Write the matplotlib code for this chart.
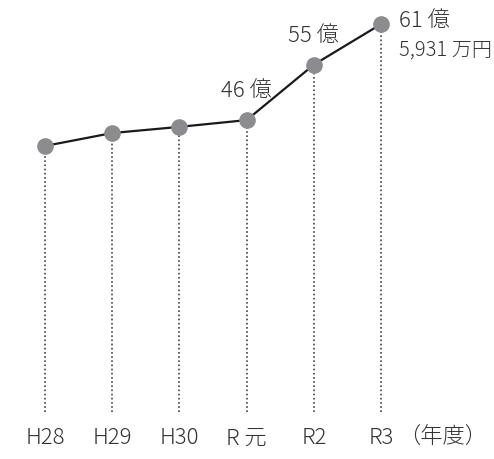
import matplotlib
matplotlib.use("Agg")
import matplotlib.pyplot as plt

plt.rcParams['font.family'] = ['Noto Sans CJK JP', 'DejaVu Sans']

years = ['H28', 'H29', 'H30', 'R 元', 'R2', 'R3']
values = [41.8, 43.9, 44.9, 46.0, 55.0, 61.59]
labels = {3: '46 億', 4: '55 億'}
last_label = ['61 億', '5,931 万円']

W, H = 494, 459
fig = plt.figure(figsize=(W / 100, H / 100), dpi=100)
ax = fig.add_axes([0, (H - 412) / H, 1, 412 / H])

x = list(range(len(years)))
ymin, ymax = -1.4, 65.5
ax.set_xlim(-0.67, 6.68)
ax.set_ylim(ymin, ymax)

# dotted drop lines
ax.vlines(x, ymin, values, colors='#444444', linestyles=(0, (1, 1.5)), linewidth=1.2, zorder=1)
ax.plot(x, values, color='#1a1a1a', linewidth=1.6, zorder=2)
ax.plot(x, values, 'o', color='#8c8c8f', markersize=12, markeredgewidth=0, zorder=3)

txt = dict(color='#333333', fontsize=16, fontweight='light')
for i, s in labels.items():
    ax.annotate(s, (x[i], values[i]), xytext=(0, 21), textcoords='offset points',
                ha='center', va='center', **txt)
ax.annotate(last_label[0], (x[5], values[5]), xytext=(13, 2), textcoords='offset points',
            ha='left', va='center', **txt)
ax.annotate(last_label[1], (x[5], values[5]), xytext=(13, -19), textcoords='offset points',
            ha='left', va='center', color='#333333', fontsize=14.5, fontweight='light')

ax.set_xticks(x)
ax.set_xticklabels(years, color='#333333', fontsize=16, fontweight='light')
ax.tick_params(axis='x', length=0, pad=11)
ax.set_yticks([])
ax.annotate('（年度）', (443 / W, 0), xycoords='axes fraction', xytext=(0, -19),
            textcoords='offset points', ha='center', va='center', **txt)
for sp in ax.spines.values():
    sp.set_visible(False)

fig.savefig('out.png', dpi=100)
